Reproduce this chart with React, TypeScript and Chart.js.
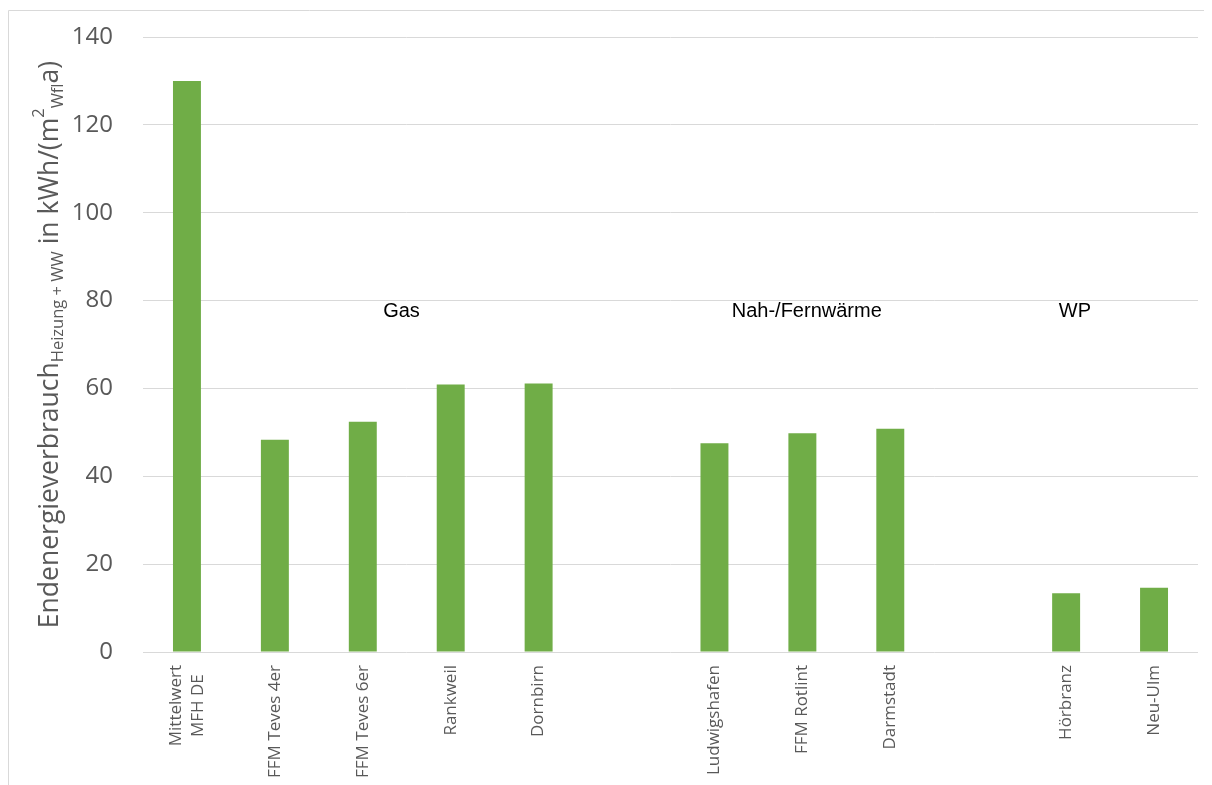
import React, { useEffect, useRef } from "react";
import { Chart, registerables } from "chart.js";

Chart.register(...registerables);

const categories: (string | string[])[] = [
  ["Mittelwert", "MFH DE"],
  "FFM Teves 4er",
  "FFM Teves 6er",
  "Rankweil",
  "Dornbirn",
  "",
  "Ludwigshafen",
  "FFM Rotlint",
  "Darmstadt",
  "",
  "Hörbranz",
  "Neu-Ulm",
];

const values: (number | null)[] = [130, 48.3, 52.4, 60.9, 61.1, null, 47.5, 49.8, 50.8, null, 13.4, 14.6];

const groupLabels = ["Gas", "Nah-/Fernwärme", "WP"];
const groupPositions = [2.44, 7.05, 10.1];
const groupValue = 77.5;

const yTicks = { min: 0, max: 140, step: 20 };

const titleParts = [
  { t: "Endenergieverbrauch", size: 26.5, dy: 0 },
  { t: "Heizung + WW", size: 16.5, dy: 5 },
  { t: " in kWh/(m", size: 26.5, dy: 0 },
  { t: "2", size: 16.5, dy: -14 },
  { t: "Wfl", size: 16.5, dy: 5 },
  { t: "a)", size: 26.5, dy: 0 },
];

const FONT = "'Open Sans', 'Noto Sans', sans-serif";
const GREY = "#595959";

const drawPlugin = {
  id: "customDraw",
  afterDraw(chart: any) {
    const ctx = chart.ctx as CanvasRenderingContext2D;
    const ca = chart.chartArea;
    const xs = chart.scales.x;
    const ys = chart.scales.y;
    ctx.save();
    // outer frame
    ctx.strokeStyle = "#d9d9d9";
    ctx.lineWidth = 1;
    ctx.beginPath();
    ctx.moveTo(0.5, chart.height);
    ctx.lineTo(0.5, 2.5);
    ctx.lineTo(chart.width, 2.5);
    ctx.stroke();

    // x labels
    ctx.fillStyle = GREY;
    ctx.font = `17px ${FONT}`;
    const lineH = 22;
    categories.forEach((lab, i) => {
      const lines = Array.isArray(lab) ? lab : [lab];
      if (lines.length === 1 && lines[0] === "") return;
      const x = xs.getPixelForValue(i);
      const widths = lines.map((l) => ctx.measureText(l).width);
      const maxW = Math.max(...widths);
      ctx.save();
      ctx.translate(x, ca.bottom + 13);
      ctx.rotate(-Math.PI / 2);
      ctx.textAlign = "right";
      ctx.textBaseline = "middle";
      lines.forEach((l, j) => {
        const fy = (j - (lines.length - 1) / 2) * lineH;
        ctx.fillText(l, -(maxW - widths[j]) / 2, fy);
      });
      ctx.restore();
    });

    // group annotations
    ctx.fillStyle = "#000000";
    ctx.font = "20px 'Liberation Sans', Arial, sans-serif";
    ctx.textAlign = "center";
    ctx.textBaseline = "middle";
    groupLabels.forEach((g, i) => {
      ctx.fillText(g, xs.getPixelForValue(groupPositions[i]), ys.getPixelForValue(groupValue));
    });

    // y title
    ctx.fillStyle = GREY;
    let total = 0;
    const widths = titleParts.map((p) => {
      ctx.font = `${p.size}px ${FONT}`;
      const w = ctx.measureText(p.t).width;
      total += w;
      return w;
    });
    const cy = (ca.top + ca.bottom) / 2;
    ctx.save();
    ctx.translate(50, cy);
    ctx.rotate(-Math.PI / 2);
    ctx.textAlign = "left";
    ctx.textBaseline = "alphabetic";
    let fx = -total / 2;
    titleParts.forEach((p, i) => {
      ctx.font = `${p.size}px ${FONT}`;
      ctx.fillText(p.t, fx, p.dy);
      fx += widths[i];
    });
    ctx.restore();
    ctx.restore();
  },
};

export default function App() {
  const ref = useRef<HTMLCanvasElement | null>(null);
  useEffect(() => {
    if (!ref.current) return;
    const chart = new Chart(ref.current, {
      type: "bar",
      data: {
        labels: categories.map((c) => (Array.isArray(c) ? c.join(" ") : c)),
        datasets: [
          {
            data: values,
            backgroundColor: "#70AD47",
            borderWidth: 0,
            categoryPercentage: 1,
            barPercentage: 0.318,
          },
        ],
      },
      options: {
        animation: false,
        responsive: true,
        maintainAspectRatio: false,
        layout: { padding: { top: 29, right: 14, left: 0, bottom: 0 } },
        plugins: { legend: { display: false }, tooltip: { enabled: false }, title: { display: false } },
        scales: {
          x: {
            grid: { display: false },
            border: { display: false },
            ticks: { display: false },
            afterFit: (s: any) => {
              s.height = 133;
            },
          },
          y: {
            min: yTicks.min,
            max: yTicks.max,
            grid: { color: "#d9d9d9", lineWidth: 1, drawTicks: false },
            border: { display: false },
            ticks: {
              stepSize: yTicks.step,
              padding: 30,
              color: GREY,
              font: { family: FONT, size: 24 },
            },
            afterFit: (s: any) => {
              s.width = 135;
              s.paddingTop = 0;
              s.paddingBottom = 0;
            },
          },
        },
      },
      plugins: [drawPlugin],
    });
    return () => chart.destroy();
  }, []);
  return (
    <div style={{ width: 1204, height: 777, position: "relative" }}>
      <canvas ref={ref} />
    </div>
  );
}
